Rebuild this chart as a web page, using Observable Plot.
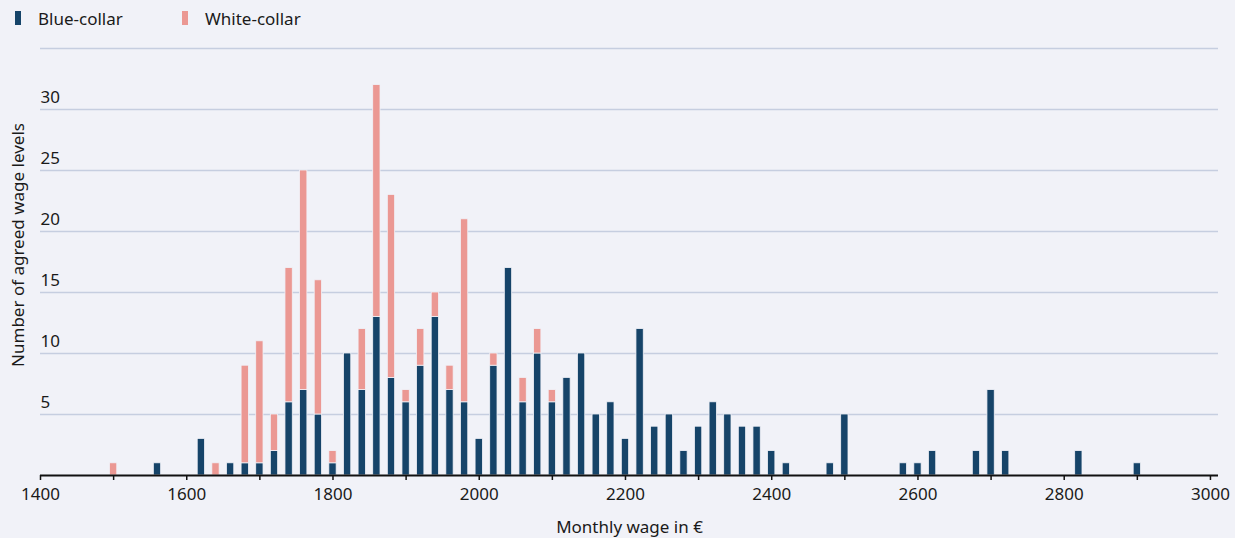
<!DOCTYPE html>
<html>
<head>
<meta charset="utf-8">
<script src="https://cdn.jsdelivr.net/npm/d3@7"></script>
<script src="https://cdn.jsdelivr.net/npm/@observablehq/plot@0.6"></script>
<style>
  html, body { margin: 0; padding: 0; background: #f1f2f8; }
  #wrap { position: relative; width: 1235px; height: 538px; font-family: "Noto Sans", sans-serif; color: #1a1a1a; }
  #legend { position: absolute; left: 0; top: 0; height: 36px; width: 600px; font-size: 17px; }
  .item { position: absolute; top: 7px; display: flex; align-items: center; height: 22px; }
  .sw { width: 6px; height: 14px; margin-right: 17px; }
  svg { display: block; }
</style>
</head>
<body>
<div id="wrap">
  <div id="legend"></div>
  <div id="chart"></div>
</div>
<script>
// Data
const seriesNames = ["Blue-collar", "White-collar"];
const seriesColors = ["#164469", "#eb9893"];
const wages = [1500,1560,1620,1640,1660,1680,1700,1720,1740,1760,1780,1800,1820,1840,1860,1880,1900,1920,1940,1960,1980,2000,2020,2040,2060,2080,2100,2120,2140,2160,2180,2200,2220,2240,2260,2280,2300,2320,2340,2360,2380,2400,2420,2480,2500,2580,2600,2620,2680,2700,2720,2820,2900];
const blueCollar = [0,1,3,0,1,1,1,2,6,7,5,1,10,7,13,8,6,9,13,7,6,3,9,17,6,10,6,8,10,5,6,3,12,4,5,2,4,6,5,4,4,2,1,1,5,1,1,2,2,7,2,2,1];
const whiteCollar = [1,0,0,1,0,8,10,3,11,18,11,1,0,5,19,15,1,3,2,2,15,0,1,0,2,2,1,0,0,0,0,0,0,0,0,0,0,0,0,0,0,0,0,0,0,0,0,0,0,0,0,0,0];
const xTicks = [1400,1500,1600,1700,1800,1900,2000,2100,2200,2300,2400,2500,2600,2700,2800,2900,3000];
const xTickLabels = ["1400","","1600","","1800","","2000","","2200","","2400","","2600","","2800","","3000"];
const yGrid = [5,10,15,20,25,30,35];
const yTickLabels = [5,10,15,20,25,30];
const xTitle = "Monthly wage in €";
const yTitle = "Number of agreed wage levels";

// Long-form table
const rows = [];
wages.forEach((w, i) => {
  if (blueCollar[i] > 0) rows.push({wage: w, group: seriesNames[0], count: blueCollar[i]});
  if (whiteCollar[i] > 0) rows.push({wage: w, group: seriesNames[1], count: whiteCollar[i]});
});

// Legend
const legend = document.getElementById("legend");
const legendX = [15, 182];
seriesNames.forEach((n, i) => {
  const it = document.createElement("div");
  it.className = "item";
  it.style.left = legendX[i] + "px";
  it.innerHTML = `<span class="sw" style="background:${seriesColors[i]}"></span><span>${n}</span>`;
  legend.appendChild(it);
});

const chart = Plot.plot({
  width: 1235,
  height: 538,
  marginTop: 48,
  marginBottom: 63,
  marginLeft: 40,
  marginRight: 17,
  style: {background: "transparent", fontFamily: "Noto Sans, sans-serif", fontSize: "17px", color: "#1a1a1a"},
  x: {domain: [1400, 3011]},
  y: {domain: [0, 35]},
  color: {domain: seriesNames, range: seriesColors},
  marks: [
    Plot.ruleY(yGrid, {stroke: "#c6cee0", strokeWidth: 1.6}),
    Plot.rectY(rows, {
      x1: d => d.wage - 5,
      x2: d => d.wage + 5,
      y: "count",
      fill: "group",
      order: seriesNames,
      stroke: "#f1f2f8",
      strokeWidth: 0.8
    }),
    Plot.ruleY([0], {stroke: "#111", strokeWidth: 2}),
    Plot.axisX({
      ticks: xTicks,
      tickFormat: (d) => xTickLabels[xTicks.indexOf(d)],
      tickSize: 5,
      tickPadding: 7,
      stroke: "#111",
      strokeWidth: 1.5,
      label: null,
      fontSize: 17
    }),
    Plot.axisY({ticks: [], label: null}),
    Plot.text(yTickLabels, {
      y: d => d,
      text: d => String(d),
      frameAnchor: "left",
      textAnchor: "start",
      lineAnchor: "bottom",
      dy: -7,
      fontSize: 17,
      fill: "#1a1a1a"
    }),
    Plot.text([xTitle], {frameAnchor: "bottom", textAnchor: "middle", lineAnchor: "middle", dy: 52, fontSize: 17, fill: "#1a1a1a"}),
    Plot.text([yTitle], {frameAnchor: "left", textAnchor: "middle", rotate: -90, lineAnchor: "middle", dx: -22, dy: -17, fontSize: 17, fill: "#1a1a1a"})
  ]
});
document.getElementById("chart").appendChild(chart);
</script>
</body>
</html>
